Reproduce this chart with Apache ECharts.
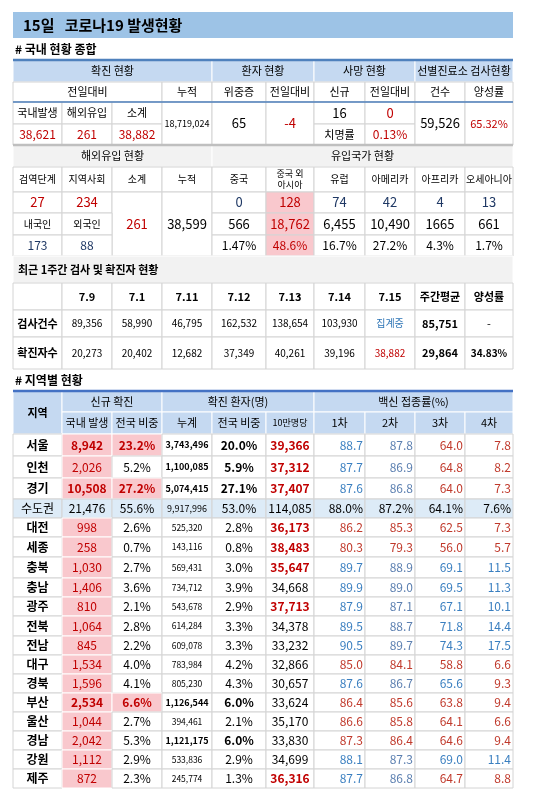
<!DOCTYPE html>
<html><head><meta charset="utf-8">
<script src="https://cdn.jsdelivr.net/npm/echarts@6/dist/echarts.min.js"></script>
<style>html,body{margin:0;padding:0;background:#fff}#c{width:550px;height:799px}</style>
</head><body><div id="c"></div>
<script>
// ---------- data ----------
const titleText = '15일   코로나19 발생현황';
const sec1Label = '# 국내 현황 종합';
const sec4Label = '# 지역별 현황';
const confirmLocal = 38621, confirmImport = 261, confirmSum = 38882, confirmCum = 18719024;
const critical = 65, criticalDiff = -4, deathNew = 16, deathDiff = 0, fatality = '0.13%';
const testCount = 59526, positiveRate = '65.32%';
const importHeads = ['검역단계','지역사회','소계','누적','중국','중국 외\n아시아','유럽','아메리카','아프리카','오세아니아'];
const importQuar = 27, importComm = 234, importSum = 261, importCum = 38599;
const originToday = [0,128,74,42,4,13];
const originCum = [566,18762,6455,10490,1665,661];
const originShare = ['1.47%','48.6%','16.7%','27.2%','4.3%','1.7%'];
const nationals = [173,88];
const weekDates = ['7.9','7.1','7.11','7.12','7.13','7.14','7.15'];
const weekTests = ['89,356','58,990','46,795','162,532','138,654','103,930','집계중'];
const weekCases = ['20,273','20,402','12,682','37,349','40,261','39,196','38,882'];
const weekAvgTests = '85,751', weekAvgCases = '29,864', weekRate = '34.83%';
const regions = ['서울','인천','경기','수도권','대전','세종','충북','충남','광주','전북','전남','대구','경북','부산','울산','경남','강원','제주'];
const newLocal = [8942,2026,10508,21476,998,258,1030,1406,810,1064,845,1534,1596,2534,1044,2042,1112,872];
const newShare = [23.2,5.2,27.2,55.6,2.6,0.7,2.7,3.6,2.1,2.8,2.2,4.0,4.1,6.6,2.7,5.3,2.9,2.3];
const cumTotal = [3743496,1100085,5074415,9917996,525320,143116,569431,734712,543678,614284,609078,783984,805230,1126544,394461,1121175,533836,245774];
const cumShare = [20.0,5.9,27.1,53.0,2.8,0.8,3.0,3.9,2.9,3.3,3.3,4.2,4.3,6.0,2.1,6.0,2.9,1.3];
const per100k = [39366,37312,37407,114085,36173,38483,35647,34668,37713,34378,33232,32866,30657,33624,35170,33830,34699,36316];
const vac1 = [88.7,87.7,87.6,88.0,86.2,80.3,89.7,89.9,87.9,89.5,90.5,85.0,87.6,86.4,86.6,87.3,88.1,87.7];
const vac2 = [87.8,86.9,86.8,87.2,85.3,79.3,88.9,89.0,87.1,88.7,89.7,84.1,86.7,85.6,85.8,86.4,87.3,86.8];
const vac3 = [64.0,64.8,64.0,64.1,62.5,56.0,69.1,69.5,67.1,71.8,74.3,58.8,65.6,63.8,64.1,64.6,69.0,64.7];
const vac4 = [7.8,8.2,7.3,7.6,7.3,5.7,11.5,11.3,10.1,14.4,17.5,6.6,9.3,9.4,6.6,9.4,11.4,8.8];

// ---------- layout ----------
const X = [13,62,112,162,212,266,314,365,415,465,513];
const Y = [12,38,60,82,102,124,145,167,192,213,235,256,283,310,337,369,391,412,434,456,478,499,518,537,557,578,597,616,636,655,674,693,712,731,750,769,788];
const RED='#c00000', BLUE='#2e75b6', NAVY='#1f3864', HB='#c5d9f1', PINK='#f9c8cd', GRAY='#f2f2f2', SUB='#ddebf7';
const vacTh = [87.5,86.6,65.0,10.0];
const fmt = v => v.toLocaleString('en-US');
const cells = [];
function cell(c0,c1,r0,r1,text,o={}){cells.push(Object.assign({c0,c1,r0,r1,text},o));}
function line(c0,c1,r,color,w){cells.push({line:true,c0,c1,r0:r,color,w});}

cell(0,10,0,1,titleText,{bg:'#9dc3e6',stroke:'none',align:'left',pad:10,bold:true,size:15});
cell(0,10,1,2,sec1Label,{stroke:'none',align:'left',pad:2,bold:true,size:12});
// table 1
[['확진 현황',0,4],['환자 현황',4,6],['사망 현황',6,8],['선별진료소 검사현황',8,10]].forEach(h=>cell(h[1],h[2],2,3,h[0],{bg:HB,stroke:'#fff'}));
[['전일대비',0,3],['누적',3,4],['위중증',4,5],['전일대비',5,6],['신규',6,7],['전일대비',7,8],['건수',8,9],['양성률',9,10]].forEach(h=>cell(h[1],h[2],3,4,h[0]));
cell(0,1,4,5,'국내발생');cell(1,2,4,5,'해외유입');cell(2,3,4,5,'소계');
cell(0,1,5,6,fmt(confirmLocal),{color:RED,size:12});cell(1,2,5,6,fmt(confirmImport),{color:RED,size:12});cell(2,3,5,6,fmt(confirmSum),{color:RED,size:12});
cell(3,4,4,6,fmt(confirmCum),{size:9});
cell(4,5,4,6,String(critical),{size:13});cell(5,6,4,6,String(criticalDiff),{size:13,color:RED});
cell(6,7,4,5,String(deathNew),{size:13});cell(7,8,4,5,String(deathDiff),{size:13,color:RED});
cell(6,7,5,6,'치명률');cell(7,8,5,6,fatality,{size:12,color:RED});
cell(8,9,4,6,fmt(testCount),{size:13});cell(9,10,4,6,positiveRate,{color:RED});
// section 2
cell(0,4,6,7,'해외유입 현황',{bg:GRAY,stroke:'#fff'});cell(4,10,6,7,'유입국가 현황',{bg:GRAY,stroke:'#fff'});
importHeads.forEach((h,i)=>cell(i,i+1,7,8,h,{size:i===5?9:10}));
cell(0,1,8,9,String(importQuar),{color:RED,size:13});cell(1,2,8,9,String(importComm),{color:RED,size:13});
cell(2,3,8,11,String(importSum),{color:RED,size:13});cell(3,4,8,11,fmt(importCum),{size:13});
cell(0,1,9,10,'내국인',{size:10});cell(1,2,9,10,'외국인',{size:10});
cell(0,1,10,11,String(nationals[0]),{color:NAVY,size:12});cell(1,2,10,11,String(nationals[1]),{color:NAVY,size:12});
originToday.forEach((v,i)=>cell(4+i,5+i,8,9,String(v),{size:13,color:i===1?RED:NAVY,bg:i===1?PINK:null}));
originCum.forEach((v,i)=>cell(4+i,5+i,9,10,i===4?String(v):fmt(v),{size:13,color:i===1?RED:'#000',bg:i===1?PINK:null}));
originShare.forEach((v,i)=>cell(4+i,5+i,10,11,v,{size:12,color:i===1?RED:'#000',bg:i===1?PINK:null}));
// section 3
cell(0,10,11,12,'최근 1주간 검사 및 확진자 현황',{bg:GRAY,stroke:'#fff',align:'left',pad:5,bold:true});
cell(0,1,12,13,'');
weekDates.forEach((d,i)=>cell(1+i,2+i,12,13,d,{bold:true}));
cell(8,9,12,13,'주간평균',{bold:true});cell(9,10,12,13,'양성률',{bold:true});
cell(0,1,13,14,'검사건수',{bold:true});cell(0,1,14,15,'확진자수',{bold:true});
weekTests.forEach((v,i)=>cell(1+i,2+i,13,14,v,{size:10,color:i===6?BLUE:'#000'}));
weekCases.forEach((v,i)=>cell(1+i,2+i,14,15,v,{size:10,color:i===6?RED:'#000'}));
cell(8,9,13,14,weekAvgTests,{bold:true});cell(9,10,13,14,'-');
cell(8,9,14,15,weekAvgCases,{bold:true});cell(9,10,14,15,weekRate,{bold:true,size:10});
cell(0,10,15,16,sec4Label,{stroke:'none',align:'left',pad:2,bold:true,size:12});
// region table
cell(0,1,16,18,'지역',{bg:HB,stroke:'#fff',bold:true});
cell(1,3,16,17,'신규 확진',{bg:HB,stroke:'#fff'});cell(3,6,16,17,'확진 환자(명)',{bg:HB,stroke:'#fff'});cell(6,10,16,17,'백신 접종률(%)',{bg:HB,stroke:'#fff'});
['국내 발생','전국 비중','누계','전국 비중','10만명당','1차','2차','3차','4차'].forEach((h,i)=>cell(1+i,2+i,17,18,h,{bg:HB,stroke:'#fff',size:i===4?9:11}));
const pinkShare=[0,2,13], boldCum=[0,1,2,13,15], redPer=[0,1,2,4,5,6,8,17];
regions.forEach((r,i)=>{
  const r0=18+i, sub=i===3, bg=sub?SUB:null;
  cell(0,1,r0,r0+1,r,{bold:!sub,size:12,bg});
  if(sub){
    cell(1,2,r0,r0+1,fmt(newLocal[i]),{bg,size:12});
    cell(2,3,r0,r0+1,newShare[i].toFixed(1)+'%',{bg,size:12});
    cell(3,4,r0,r0+1,fmt(cumTotal[i]),{bg,size:9});
    cell(4,5,r0,r0+1,cumShare[i].toFixed(1)+'%',{bg,size:12});
    cell(5,6,r0,r0+1,fmt(per100k[i]),{bg,size:12});
    [vac1,vac2,vac3,vac4].forEach((a,k)=>cell(6+k,7+k,r0,r0+1,a[i].toFixed(1)+'%',{bg,size:12,align:'right',pad:2}));
    return;
  }
  const big=[0,2,13].includes(i);
  cell(1,2,r0,r0+1,fmt(newLocal[i]),{bg:PINK,stroke:'#fff',color:RED,size:12,bold:big});
  const ps=pinkShare.includes(i);
  cell(2,3,r0,r0+1,newShare[i].toFixed(1)+'%',{bg:ps?PINK:null,stroke:ps?'#fff':null,color:ps?RED:'#000',bold:ps,size:12});
  const bc=boldCum.includes(i);
  cell(3,4,r0,r0+1,fmt(cumTotal[i]),{size:bc?9:8.5,bold:bc});
  cell(4,5,r0,r0+1,cumShare[i].toFixed(1)+'%',{size:12,bold:bc});
  const rp=redPer.includes(i);
  cell(5,6,r0,r0+1,fmt(per100k[i]),{size:12,bold:rp,color:rp?RED:'#000'});
  [vac1,vac2,vac3,vac4].forEach((a,k)=>cell(6+k,7+k,r0,r0+1,a[i].toFixed(1),{size:12,align:'right',pad:2,color:a[i]>=vacTh[k]?(k===1?'#5b7fb0':'#3a7fc0'):'#c0392b'}));
});
line(0,10,2,'#4f81bd',2.5);line(0,10,4,'#4f81bd',1.5);line(0,10,6,'#bfbfbf',2.5);line(0,10,16,'#4472c4',2.5);

// ---------- chart ----------
const chart = echarts.init(document.getElementById('c'));
const FF = '"Noto Sans CJK KR", "Noto Sans", sans-serif';
chart.setOption({
  animation:false,
  grid:{left:0,right:0,top:0,bottom:0},
  xAxis:{type:'value',min:0,max:550,show:false},
  yAxis:{type:'value',min:0,max:799,inverse:true,show:false},
  series:[{
    type:'custom', clip:false,
    data:cells.map(c=>[X[c.c0],Y[c.r0]]),
    renderItem:(p,api)=>{
      const c=cells[p.dataIndex];
      const a=api.coord([X[c.c0],Y[c.r0]]);
      if(c.line){const b=api.coord([X[c.c1],Y[c.r0]]);
        return {type:'line',shape:{x1:a[0],y1:a[1],x2:b[0],y2:b[1]},style:{stroke:c.color,lineWidth:c.w}};}
      const b=api.coord([X[c.c1],Y[c.r1]]);
      const w=b[0]-a[0], h=b[1]-a[1];
      const align=c.align||'center';
      const tx= align==='left'? a[0]+(c.pad||0) : align==='right'? b[0]-(c.pad||0) : a[0]+w/2;
      const children=[];
      if(c.stroke!=='none'||c.bg) children.push({type:'rect',shape:{x:a[0],y:a[1],width:w,height:h},
        style:{fill:c.bg||'#fff',stroke:c.stroke==='none'?null:(c.stroke||'#d4d4d4'),lineWidth:1}});
      children.push({type:'text',style:{text:c.text,x:tx,y:a[1]+h/2,align,verticalAlign:'middle',
        fill:c.color||'#000',font:(c.bold?'bold ':'')+(c.size||11)+'px '+FF,lineHeight:(c.size||11)+2}});
      return {type:'group',children};
    }
  }]
});
</script></body></html>
